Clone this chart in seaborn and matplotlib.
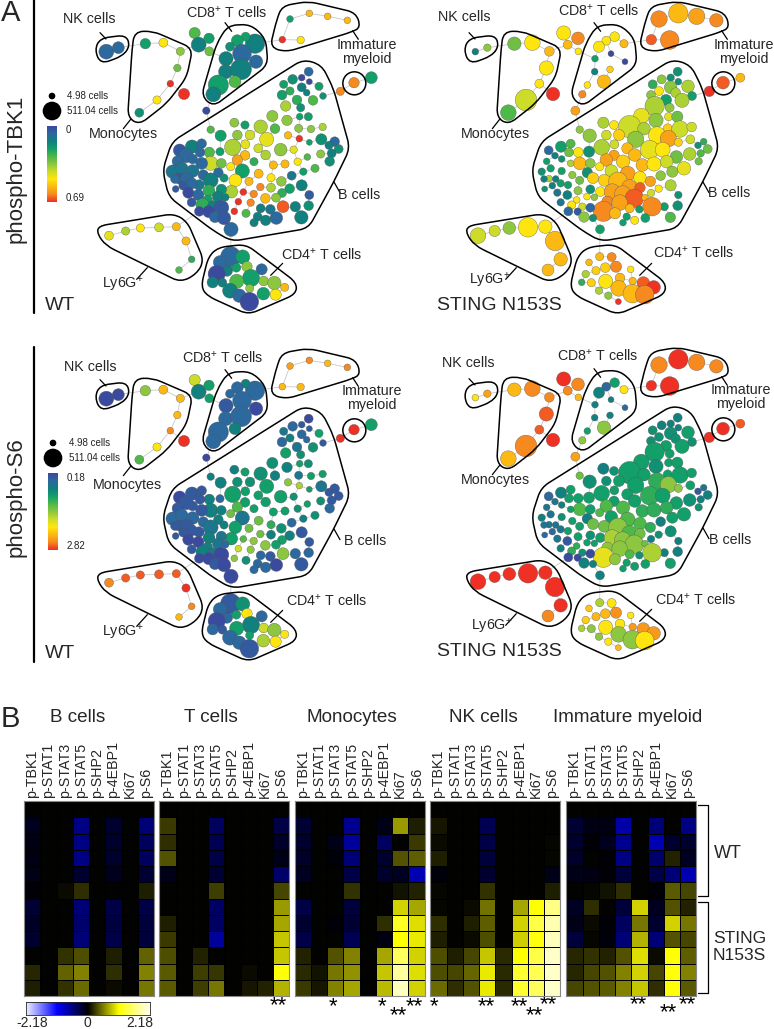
import numpy as np
import pandas as pd
import matplotlib
matplotlib.use('Agg')
import matplotlib.pyplot as plt
from matplotlib.colors import LinearSegmentedColormap
from matplotlib.patches import Ellipse, PathPatch
from matplotlib.path import Path
import seaborn as sns

# SPADE tree: layout, node diameter and colour level (0-10 on the rainbow bar)
upper_x = [319,355,436,490,541,532,511,552,471,418,584,596,627,628,619]
upper_y = [155,143,131,128,154,204,251,282,300,338,99,134,115,154,332]
upper_d_wt = [40,32,28,24,22,20,18,30,22,24,30,40,28,24,20]
upper_d_st = [18,20,36,42,26,38,24,36,58,42,38,24,34,18,24]
upper_tbk_wt = [1,1,3,7,5,4.5,10,10,7,2.5,4,2,3,4.5,0]
upper_tbk_st = [2,5,4.5,7,8,7,7,10,6,4,7,8,9,7,8.5]
upper_s6_wt = [0,0,5,8,8,8,9,10,7,4,6,2,3,3,0]
upper_s6_st = [7,8.5,8,9,9,9.5,9.5,10,9,8,10,9,9,8,8.5]

cd8_x = [765,737,712,690,726,768,678,677,723,705,655,640]
cd8_y = [131,110,122,140,161,185,176,215,208,245,255,283]
cd8_d_wt = [52,24,32,24,50,36,38,38,56,32,54,40]
cd8_d_st = [22,26,24,30,16,16,18,18,18,36,18,20]
cd8_tbk_wt = [2,3,3,2.5,1,1,2,2,2,4,3,2]
cd8_tbk_st = [8,7,7,7,0,0,3,2,7.5,8,7,9]
cd8_s6_wt = [1,2,1,1,1,0,0.5,1,1,2,1,1]
cd8_s6_st = [7,3,1,2,2,1,2,2,2,5,3,5]

imm_x = [870,928,983,1042,847,902,1021,1062,1114]
imm_y = [57,40,49,61,119,120,274,248,233]
imm_d_wt = [18,18,18,18,18,20,22,28,32]
imm_d_st = [44,52,44,36,28,50,28,34,24]
imm_tbk_wt = [3,8,8,8,10,7,9,9,3]
imm_tbk_st = [9,8,8.5,9,9.5,9,10,9.5,8]
imm_s6_wt = [8.5,9,8,9,8,8,10,10,3]
imm_s6_st = [9,10,9,9,10,10,10,10,9.5]

ly6g_x = [327,377,421,477,529,558,575,537]
ly6g_y = [707,693,684,682,680,723,778,810]
ly6g_d_wt = [24,22,22,24,22,22,18,18]
ly6g_d_st = [42,30,34,52,36,52,36,32]
ly6g_tbk_wt = [6.5,5.5,7,6,8,8,3.5,4]
ly6g_tbk_st = [6,6,5,7,7,8,8,8]
ly6g_s6_wt = [9,9.5,9.5,9.5,9.5,10,9,8]
ly6g_s6_st = [10,10,10,10,10,10,10,9]

cd4_x = [693,681,692,728,660,709,741,785,650,753,710,791,823,854,638,667,749,690,718,790,827,748]
cd4_y = [688,812,770,771,787,803,800,808,822,834,844,843,849,862,847,848,865,872,887,881,884,905]
cd4_d_wt = [38,30,54,38,36,24,28,30,46,46,38,26,36,22,30,24,22,40,36,34,30,50]
cd4_d_st = [24,22,22,24,18,26,30,18,20,26,38,20,34,36,18,22,42,20,20,50,50,16]
cd4_tbk_wt = [1,2,1,3,1,3,5,1,0,3,4,5,5,8,2,2,5,2,1,3,7,0]
cd4_tbk_st = [3,7.5,8,9,8,7.5,9,7,5.5,8,7,8,9.5,10,3.5,7.5,8,5.5,5,8,9,10]
cd4_s6_wt = [0,1,0.5,2.5,1,3,7,1,0,2,3,6,5,7,1,0.5,3,1,1,5.5,7,0.5]
cd4_s6_st = [2,8,5.5,7,7.7,8,8.8,7,7.5,7,7,8.7,8.7,8.7,5.5,5,5,5,7,5,7,8]

btop_x = [926,905,928,878,851,870,905,957,920,969,846,891,939,857,902,899,925,817,861,703,735,782,825,896,933,968,632,712,662,750,800,864,898,928,964,1004,987,1016,995,989,698,736,775,842,881,962,922]
btop_y = [215,233,245,238,253,273,262,259,278,288,285,300,301,318,323,350,350,348,361,368,375,380,386,385,387,381,389,405,407,405,418,406,416,427,418,425,436,447,460,484,442,433,445,449,449,462,471]
btop_d_wt = [24,18,16,26,22,22,24,22,18,18,26,26,26,28,22,18,22,30,28,24,22,36,26,22,20,20,20,26,30,26,38,20,18,16,30,26,22,24,24,26,44,24,24,34,20,22,18]
btop_d_st = [24,20,18,24,24,24,34,34,26,24,24,30,38,52,24,22,30,42,38,30,24,60,34,24,44,26,20,26,36,30,44,46,44,22,24,18,18,24,20,20,42,24,30,50,40,34,34]
btop_tbk_wt = [1,0,0,2.5,3,3.5,2,3,2,2.5,3,3.5,4,5.5,2.5,3,3,5,5,5,3,5.5,4,5,5,5.5,4,5,3,6,6.5,8,10,3,2.5,1,2,2.5,2,2.5,5.5,6.5,6,5,6.5,5,4]
btop_tbk_st = [2.5,2.5,2.5,5,3.5,7,5,5.5,5.5,3,5,3,5.5,5.5,5,6.5,4.5,6.5,5,5.5,7,6,5.5,7.5,6,6,5,6,5,7.5,5,7,8.5,7.5,6,3.5,2.5,4.5,4,4.5,5.5,6,8,6.5,7,5.5,4.5]
btop_s6_wt = [0,0.5,0.5,1,1.5,2,1,3,1,0.5,1,1.5,2.5,3,2.5,3,2.5,2.5,2,2,3,2.5,2,1.5,3,3,2,2.5,2,2.5,3,5,5.5,3,1.5,0.5,0.5,0.5,0.5,1,3,3,3,3,2.5,2.5,3]
btop_s6_st = [2,2,2,2,2.5,2.5,2.5,3,2.5,2.5,2.5,3,3,3,3,3,3,3,2.5,2,2.5,3,3,3,3,3,4.5,2.5,2.5,3,3,3.5,5,5,3,1.5,0.5,2,2,2.5,3,3,3,3.5,3,2.5,3]

bmid_x = [660,628,632,664,735,712,692,797,762,820,855,893,945,910,875,727,776,813,844,706,747,781,813,869,905,694,730,761,846,796,828,928,715,752,886,926,849,782,811,703,738,773,829,797,762,904]
bmid_y = [455,457,490,490,466,480,500,465,485,495,492,485,505,515,527,513,521,533,544,541,544,561,563,566,556,575,576,582,579,595,593,585,605,608,620,617,620,625,628,634,640,650,654,661,668,652]
bmid_d_wt = [22,28,38,26,26,28,22,26,22,22,22,20,22,20,24,38,24,22,26,34,22,20,24,26,30,34,18,20,24,26,24,24,18,20,28,26,32,24,26,18,22,24,34,28,22,36]
bmid_d_st = [30,26,34,26,28,34,22,34,36,34,38,34,36,30,26,34,40,34,28,32,50,40,28,20,30,26,44,44,20,50,18,20,30,42,22,26,50,24,20,54,30,20,24,22,18,28]
bmid_tbk_wt = [3,4,6,4.5,8,8.5,7,5.5,3.5,8,8,7,4,3,1.5,3,8,7,5,7,8,9,5.5,3,2,5.5,10,9,3.5,8,5,0.5,10,9,2,2.5,9.5,2,1.5,10,4,2,1,2,2,2]
bmid_tbk_st = [2.5,7,8,5,8.5,8.5,7,8,7.5,8,7,6,6.5,5,5,6,8.5,7,8.5,7.5,8,8.5,9.5,7,5.5,7,8.5,8.5,6,9.5,8,2.5,9,8.5,3,2.5,9,8,3,9,8,3,3,7,3,4]
bmid_s6_wt = [1,2,2,2,3,4,4.5,3,3,3,3,2.5,2.5,2,1,1.5,4.5,3.5,2.5,3,4.5,4.5,2,2,0.5,3,4,5,3,5,3,0.5,6,5,1,1,5,1,0.5,5,2.5,1,0,1,1,0.5]
bmid_s6_st = [3,3,4,3,3,4,4,3,4,3.5,3.5,3.5,3,3,2,3,4,4,3.5,4.5,5,4,4.5,2.5,2.5,3,5.5,5,2,5,4.5,2,5,5,2,2,5.5,4,2.5,6.5,5,3,3,3,3,3]

bleft_x = [576,539,605,600,558,578,533,605,518,545,578,610,655,540,560,597,632,672,525,575,527,550,565,595,627,664,623,654,575,608,640,664,598,626,645,672,676]
bleft_y = [440,451,431,457,467,477,484,490,515,505,513,525,518,536,537,555,541,534,537,550,567,557,578,585,572,568,600,590,607,615,620,623,634,635,651,654,592]
bleft_d_wt = [36,34,26,26,38,26,30,32,36,34,34,28,26,30,36,28,40,22,24,30,18,24,30,30,32,28,26,30,24,36,32,40,26,32,30,36,20]
bleft_d_st = [30,24,24,24,18,18,18,18,20,20,20,20,28,18,18,20,22,30,18,20,16,18,20,24,22,24,18,18,20,22,20,24,24,20,28,20,18]
bleft_tbk_wt = [2,0.5,1,1,1,1,1,1,1.5,1.5,1.5,1,1,0.5,1,1.5,2,2.5,1,1,0.5,0.5,0,1,3.5,2.5,3,2,0.5,3.5,2,0.5,0,0,1,0.5,2]
bleft_tbk_st = [3,1,4,4.5,2,2.5,3,5.5,2.5,3,3,5,2.5,5.5,2,3,4.5,7.5,2,3,2.5,2,1.5,2,5,2.5,7,7,1.5,7,6,1,1,0.5,5,2.5,5]
bleft_s6_wt = [0.5,0,0.5,0.5,0.5,0.5,0.5,0.5,1,1,1,1,2,0.5,0.5,0.5,1.5,2,0.5,0.5,0.5,0.5,0,0,2,1.5,2,1.5,0.5,2,1.5,0,0,0,0.5,0,1]
bleft_s6_st = [2,1,3,3,1.5,2,1.5,3,2,1.5,2.5,3,2,1.5,1.5,3,3,4.5,1.5,1.5,1,1,1.5,0.5,3,2.5,3.5,3,2,3.5,2.5,0,0,0,2,2,3]

# heatmap values, one block per population, top row black in every block
markers = ['p-TBK1', 'p-STAT1', 'p-STAT3', 'p-STAT5', 'p-SHP2', 'p-4EBP1', 'Ki67', 'p-S6']
heat_b = [[0,0,0,0,0,0,0,0],
          [-.12,0,0,-.55,0,-.2,0,-.5],
          [-.08,0,0,-.55,0,-.2,0,-.4],
          [-.07,0,0,-.55,0,-.2,0,-.4],
          [-.1,0,0,-.2,0,-.12,0,-.22],
          [-.03,0,.05,.2,0,0,0,.12],
          [-.22,0,0,-.5,0,-.3,0,-.3],
          [-.17,0,0,-.45,0,-.27,0,-.25],
          [-.2,0,0,-.5,0,-.3,0,-.25],
          [0,0,.22,.33,0,.13,0,.42],
          [.16,0,.42,.55,0,.2,0,.55],
          [.12,0,.22,.45,0,.05,0,.5]]
heat_t = [[0,0,0,0,0,0,0,0],
          [.25,0,0,-.4,0,0,0,-.3],
          [.2,0,0,-.35,0,0,0,-.18],
          [.35,0,0,-.3,0,0,0,-.1],
          [-.1,0,0,-.22,0,0,0,-.45],
          [0,0,0,.27,0,0,0,.3],
          [0,0,0,-.42,0,0,0,.65],
          [.12,0,0,-.42,0,0,0,.7],
          [.25,0,0,-.65,0,0,0,.85],
          [.33,0,.15,0,0,0,0,.85],
          [.38,0,.27,.23,0,.05,0,1.1],
          [.38,0,.27,.5,0,.1,.15,.75]]
heat_mono = [[0,0,0,0,0,0,0,0],
             [-.22,0,0,-.6,0,-.1,.65,.12],
             [-.2,0,-.1,-.65,0,-.4,0,.25],
             [-.18,0,-.04,-.5,0,-.2,.35,.4],
             [-.15,0,0,-.3,0,-.2,-.15,-.75],
             [0,0,0,.22,0,0,.07,.15],
             [-.3,0,0,-.25,0,0,.9,.7],
             [-.2,0,-.03,-.22,0,.2,1.25,.95],
             [-.3,0,0,-.35,0,-.08,1.1,1.0],
             [.15,0,.35,.55,0,.7,1.5,.9],
             [.18,.07,.5,.62,0,.85,1.8,.95],
             [.25,.1,.55,.7,0,.8,1.95,.9]]
heat_nk = [[0,0,0,0,0,0,0,0],
           [.1,0,0,-.35,0,0,0,0],
           [.05,0,0,-.3,0,0,0,.03],
           [.12,0,0,-.25,0,0,0,.02],
           [-.05,0,0,-.2,0,0,0,-.1],
           [.03,0,0,.22,0,0,0,.12],
           [.03,0,.05,.48,0,.7,1.1,1.7],
           [.2,0,.12,.4,0,.9,1.4,1.9],
           [.12,0,.05,.33,0,.88,1.15,1.95],
           [.33,.13,.3,.85,.18,1.1,1.4,2.0],
           [.33,.3,.43,1.0,.18,1.3,1.45,2.0],
           [.45,.2,.35,1.0,.18,1.3,1.5,2.0]]
heat_imm = [[0,0,0,0,0,0,0,0],
            [-.22,-.08,-.08,-.7,0,-.5,0,-.55],
            [-.2,-.03,-.12,-.6,0,-.75,-.2,-.2],
            [-.18,0,-.03,-.55,0,-.45,.15,-.15],
            [-.1,-.07,-.03,-.25,0,-.3,-.5,-.75],
            [0,.02,.07,.2,0,-.03,.38,.3],
            [-.15,.2,0,-.25,.9,-.12,.35,.15],
            [-.1,.05,-.03,-.4,.5,-.2,.9,.5],
            [-.25,.03,-.05,-.5,.75,-.5,.35,.3],
            [.17,.22,.15,.35,.95,.05,1.1,.4],
            [.17,.3,.35,.55,.9,.3,1.12,.55],
            [.3,.35,.38,.55,.85,.2,1.12,.38]]

sns.set_style('white')
plt.rcParams['font.family'] = ['Liberation Sans', 'DejaVu Sans']
plt.rcParams['mathtext.fontset'] = 'custom'
plt.rcParams['mathtext.rm'] = 'Liberation Sans'
plt.rcParams['mathtext.default'] = 'regular'

rainbow = LinearSegmentedColormap.from_list('rainbow_spade', [
    '#3a4a9f', '#2b6a9e', '#11807f', '#12a06a', '#4eb848', '#8cc63f',
    '#cddc29', '#ffe60f', '#fdb913', '#f68b1f', '#ee3124'])
bluyel = LinearSegmentedColormap.from_list('blue_black_yellow', [
    (0, '#eeeeff'), (.25, '#0000ff'), (.5, '#000000'), (.75, '#ffff00'), (1, '#ffffee')])

nodes = pd.DataFrame({
    'x': upper_x + cd8_x + imm_x + ly6g_x + cd4_x + btop_x + bmid_x + bleft_x,
    'y': upper_y + cd8_y + imm_y + ly6g_y + cd4_y + btop_y + bmid_y + bleft_y,
    'd_wt': upper_d_wt + cd8_d_wt + imm_d_wt + ly6g_d_wt + cd4_d_wt + btop_d_wt + bmid_d_wt + bleft_d_wt,
    'd_st': upper_d_st + cd8_d_st + imm_d_st + ly6g_d_st + cd4_d_st + btop_d_st + bmid_d_st + bleft_d_st,
    'tbk_wt': upper_tbk_wt + cd8_tbk_wt + imm_tbk_wt + ly6g_tbk_wt + cd4_tbk_wt + btop_tbk_wt + bmid_tbk_wt + bleft_tbk_wt,
    'tbk_st': upper_tbk_st + cd8_tbk_st + imm_tbk_st + ly6g_tbk_st + cd4_tbk_st + btop_tbk_st + bmid_tbk_st + bleft_tbk_st,
    's6_wt': upper_s6_wt + cd8_s6_wt + imm_s6_wt + ly6g_s6_wt + cd4_s6_wt + btop_s6_wt + bmid_s6_wt + bleft_s6_wt,
    's6_st': upper_s6_st + cd8_s6_st + imm_s6_st + ly6g_s6_st + cd4_s6_st + btop_s6_st + bmid_s6_st + bleft_s6_st,
})


def tree_edges(px, py):
    # minimum spanning tree, the way SPADE links its nodes
    n = len(px)
    done = [0]
    best = np.hypot(px - px[0], py - py[0])
    parent = np.zeros(n, dtype=int)
    edges = []
    for _ in range(n - 1):
        best[done] = np.inf
        j = int(np.argmin(best))
        edges.append((parent[j], j))
        done.append(j)
        dist = np.hypot(px - px[j], py - py[j])
        closer = dist < best
        best[closer] = dist[closer]
        parent[closer] = j
    return edges


def rounded_path(points, r):
    pts = np.array(points, float)
    verts, codes = [], []
    n = len(pts)
    for i in range(n):
        p, a, b = pts[i], pts[i - 1], pts[(i + 1) % n]
        r1 = min(r, np.hypot(*(a - p)) / 2)
        r2 = min(r, np.hypot(*(b - p)) / 2)
        start = p + (a - p) / np.hypot(*(a - p)) * r1
        end = p + (b - p) / np.hypot(*(b - p)) * r2
        verts += [start, p, end]
        codes += [Path.MOVETO if i == 0 else Path.LINETO, Path.CURVE3, Path.CURVE3]
    verts.append(verts[0])
    codes.append(Path.CLOSEPOLY)
    return Path(verts, codes)


outlines = [
    [(284,150),(300,115),(378,105),(390,138),(368,168),(302,192)],
    [(403,95),(458,93),(578,145),(560,232),(500,310),(418,374),(383,352),(396,150)],
    [(684,76),(752,73),(797,115),(804,195),(640,320),(604,288),(650,130)],
    [(846,18),(925,4),(1068,38),(1082,82),(1055,96),(858,156),(810,142),(830,60)],
    [(910,178),(965,195),(1000,265),(1050,445),(1000,548),(925,685),(695,724),(640,692),(506,590),(488,510),(516,425)],
    [(295,678),(522,641),(562,665),(612,782),(590,822),(542,847),(318,737),(292,702)],
    [(655,742),(738,733),(890,848),(888,882),(745,944),(622,888),(603,860),(625,770)],
]
leaders = [[(300,98),(318,117)], [(675,68),(695,94)], [(1058,92),(1075,118)], [(392,358),(370,386)],
           [(1002,546),(1020,578)], [(442,803),(410,838)], [(812,826),(848,790)]]

# panel offset (layout units), size/colour columns, label anchor positions in pixels
panels = [
    dict(dx=0, dy=0, d='d_wt', c='tbk_wt', name='WT', name_xy=(45,306),
         nk=(89,19), cd8=(227,13), imm=(367,52), mono=(123,134), b=(359,195), ly=(123,285), cd4=(322,255)),
    dict(dx=1107, dy=0, d='d_st', c='tbk_st', name='STING N153S', name_xy=(437,306),
         nk=(464,17), cd8=(599,11), imm=(744,52), mono=(495,134), b=(729,193), ly=(490,281), cd4=(694,253)),
    dict(dx=0, dy=1041, d='d_wt', c='s6_wt', name='WT', name_xy=(45,653),
         nk=(90,367), cd8=(223,358), imm=(372,398), mono=(127,485), b=(365,541), ly=(123,633), cd4=(327,601)),
    dict(dx=1107, dy=1038, d='d_st', c='s6_st', name='STING N153S', name_xy=(437,652),
         nk=(468,363), cd8=(598,356), imm=(741,397), mono=(495,480), b=(730,540), ly=(492,627), cd4=(696,600)),
]
label_text = {'nk': 'NK cells', 'cd8': 'CD8$^{+}$ T cells', 'imm': 'Immature\nmyeloid', 'mono': 'Monocytes',
              'b': 'B cells', 'ly': 'Ly6G$^{+}$', 'cd4': 'CD4$^{+}$ T cells'}

fig = plt.figure(figsize=(7.74, 10.29), dpi=100)
ax = fig.add_axes([0, 0, 1, 1])

px = nodes['x'].to_numpy(float)
py = nodes['y'].to_numpy(float)
edges = tree_edges(px, py)
px_per_pt = 100 / 72
node_scale = 1.12

for p in panels:
    df = pd.DataFrame({'x': (px + p['dx']) / 3, 'y': (py + p['dy']) / 3,
                       'area': (nodes[p['d']] * node_scale / 3 / px_per_pt) ** 2, 'level': nodes[p['c']]})
    for i, j in edges:
        ax.plot([df.x[i], df.x[j]], [df.y[i], df.y[j]], color='#c8c8c8', lw=0.6, zorder=1)
    sns.scatterplot(data=df, x='x', y='y', hue='level', palette=rainbow, hue_norm=(0, 10),
                    size='area', sizes=(df.area.min(), df.area.max()),
                    size_norm=(df.area.min(), df.area.max()),
                    edgecolor='#555555', linewidth=0.25, legend=False, zorder=2, ax=ax)
    for shape in outlines:
        verts = [((a + p['dx']) / 3, (b + p['dy']) / 3) for a, b in shape]
        ax.add_patch(PathPatch(rounded_path(verts, 9), fc='none', ec='black', lw=1.1, zorder=3))
    ax.add_patch(Ellipse(((1063 + p['dx']) / 3, (250 + p['dy']) / 3), 23, 23, fc='none', ec='black', lw=1.1, zorder=3))
    for seg in leaders:
        ax.plot([(s[0] + p['dx']) / 3 for s in seg], [(s[1] + p['dy']) / 3 for s in seg],
                color='black', lw=0.9, zorder=3)
    for key, text in label_text.items():
        ax.text(*p[key], text, fontsize=10.3, ha='center', va='center', linespacing=1.05, zorder=4)
    ax.text(*p['name_xy'], p['name'], fontsize=14, ha='left', va='center')

# row headers and legends of panel A
for y0, y1, title, yc, top, bot, lx, dot_y, big_y, bar0, bar1, y_top, y_bot, bx in [
    (0, 313, 'phospho-TBK1', 169, '0', '0.69', 66, 96, 111, 126, 202, 130, 198, 47),
    (347, 662, 'phospho-S6', 497, '0.18', '2.82', 68, 443, 458, 473, 550, 478, 546, 48),
]:
    ax.plot([34, 34], [y0, y1], color='black', lw=1.6)
    ax.text(16, yc, title, rotation=90, fontsize=16, ha='center', va='center')
    sns.scatterplot(x=[bx + 5, bx + 5], y=[dot_y, big_y], s=[(20 / 3 / px_per_pt) ** 2, (56 / 3 / px_per_pt) ** 2],
                    color='black', linewidth=0, legend=False, ax=ax)
    ax.text(lx + 1, dot_y, '4.98 cells', fontsize=7, va='center', color='#222222')
    ax.text(lx + 1, big_y, '511.04 cells', fontsize=7, va='center', color='#222222')
    grad = np.linspace(0, 1, 200).reshape(-1, 1)
    ax.imshow(grad, cmap=rainbow, aspect='auto', extent=(bx, bx + 10, bar1, bar0), zorder=2)
    ax.text(bx + 19, y_top, top, fontsize=7, va='center', color='#222222')
    ax.text(bx + 19, y_bot, bot, fontsize=7, va='center', color='#222222')

ax.text(0.5, 13, 'A', fontsize=21, ha='left', va='center')
ax.text(0.5, 719, 'B', fontsize=21, ha='left', va='center')

# panel B titles, stars, brackets
titles = ['B cells', 'T cells', 'Monocytes', 'NK cells', 'Immature myeloid']
title_x = [78, 211, 352, 483, 628]
for t, tx in zip(titles, title_x):
    ax.text(tx, 717, t, fontsize=13.6, ha='center', va='center')
stars = [('**', 278, 1006), ('*', 333, 1007), ('*', 382, 1007), ('**', 398, 1016), ('**', 414, 1007),
         ('*', 434, 1007), ('**', 486, 1007), ('**', 519, 1007), ('**', 534, 1016), ('**', 548, 1005),
         ('**', 638, 1005), ('**', 668, 1013), ('**', 687, 1005)]
for s, sx, sy in stars:
    ax.text(sx, sy, s, fontsize=16, ha='center', va='center', color='black')
for y0, y1 in [(805, 896), (902, 993)]:
    ax.plot([698, 708, 708, 698], [y0, y0, y1, y1], color='black', lw=0.9)
ax.text(714, 853, 'WT', fontsize=13, va='center')
ax.text(713, 947, 'STING\nN153S', fontsize=12.5, va='center', linespacing=1.1)
for lab, lx in [('-2.18', 32), ('0', 87), ('2.18', 140)]:
    ax.text(lx, 1023, lab, fontsize=10, ha='center', va='center')

ax.set_xlim(0, 774)
ax.set_ylim(1029, 0)
ax.axis('off')

# heatmaps
heat_x = [24, 159.3, 294.7, 430.3, 566.3]
heat_sets = [heat_b, heat_t, heat_mono, heat_nk, heat_imm]
for hx, hv in zip(heat_x, heat_sets):
    hax = fig.add_axes([hx / 774, 1 - 996 / 1029, 130 / 774, 195 / 1029])
    sns.heatmap(np.array(hv), cmap=bluyel, vmin=-2.18, vmax=2.18, cbar=False, linewidths=0.5,
                linecolor='black', xticklabels=markers, yticklabels=False, ax=hax)
    hax.xaxis.tick_top()
    hax.tick_params(axis='x', length=0, pad=2)
    hax.set_xticklabels(markers, rotation=90, fontsize=10.3)
    for sp in hax.spines.values():
        sp.set_visible(True)
        sp.set_color('#888888')
        sp.set_linewidth(0.8)

# heat colour bar
cax = fig.add_axes([26 / 774, 1 - 1015 / 1029, 124 / 774, 13 / 1029])
cax.imshow(np.linspace(-2.18, 2.18, 256).reshape(1, -1), cmap=bluyel, vmin=-2.18, vmax=2.18,
           aspect='auto', extent=(-2.18, 2.18, 0, 1))
cax.set_yticks([])
cax.set_xticks([-2.18, -1.09, 0, 1.09, 2.18], [])
cax.tick_params(axis='x', length=2, direction='in', width=0.6)
for sp in cax.spines.values():
    sp.set_linewidth(0.6)

fig.savefig('out.png', dpi=100)
